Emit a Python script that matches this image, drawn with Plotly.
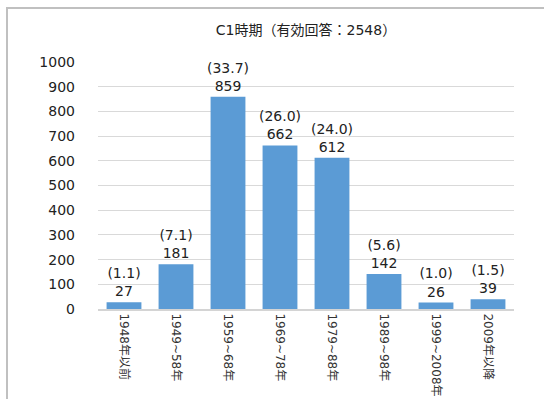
import plotly.graph_objects as go

# Survey responses by period (count and share in %)
categories = ["1948年以前", "1949~58年", "1959~68年", "1969~78年",
              "1979~88年", "1989~98年", "1999~2008年", "2009年以降"]
counts = [27, 181, 859, 662, 612, 142, 26, 39]
shares = [1.1, 7.1, 33.7, 26.0, 24.0, 5.6, 1.0, 1.5]
y_ticks = [0, 100, 200, 300, 400, 500, 600, 700, 800, 900, 1000]
title_text = "C1時期（有効回答：2548）"

FONT = "DejaVu Sans, Noto Sans CJK JP, sans-serif"
W, H = 544, 399
ML, MR, MT, MB = 98, 30, 62, 90
pw, ph = W - ML - MR, H - MT - MB

fig = go.Figure(go.Bar(
    x=categories,
    y=counts,
    customdata=shares,
    texttemplate="(%{customdata:.1f})<br>%{y}",
    textposition="outside",
    constraintext="none",
    textfont=dict(family=FONT, size=14, color="#222222"),
    marker=dict(color="#5b9bd5", line=dict(width=0)),
    cliponaxis=False,
    hoverinfo="skip",
))

# Outer frame around the chart
fig.add_shape(type="rect", xref="paper", yref="paper",
              x0=(7 - ML) / pw, x1=2.0,
              y0=-1.0, y1=1 + (MT - 8) / ph,
              line=dict(color="#c0c0c0", width=2), fillcolor="rgba(0,0,0,0)",
              layer="below")

fig.update_layout(
    width=W, height=H,
    margin=dict(l=ML, r=MR, t=MT, b=MB, autoexpand=False),
    paper_bgcolor="white", plot_bgcolor="white",
    bargap=0.33,
    showlegend=False,
    title=dict(text=title_text, x=0.5, xref="paper", xanchor="center",
               y=1 - 30 / H, yanchor="middle",
               font=dict(family=FONT, size=14, color="#222222")),
    font=dict(family=FONT, color="#222222"),
)
fig.update_xaxes(
    tickangle=90,
    tickfont=dict(family=FONT, size=12, color="#333333"),
    showline=True, linecolor="#d4d4d4", linewidth=2,
    ticks="", showgrid=False,
)
fig.update_yaxes(
    range=[0, 1000],
    tickvals=y_ticks,
    tickfont=dict(family=FONT, size=14, color="#222222"),
    showgrid=True, gridcolor="#d9d9d9", gridwidth=1,
    zeroline=False, showline=False, ticks="",
    ticklabelstandoff=22,
)

fig.write_html("out.html")
